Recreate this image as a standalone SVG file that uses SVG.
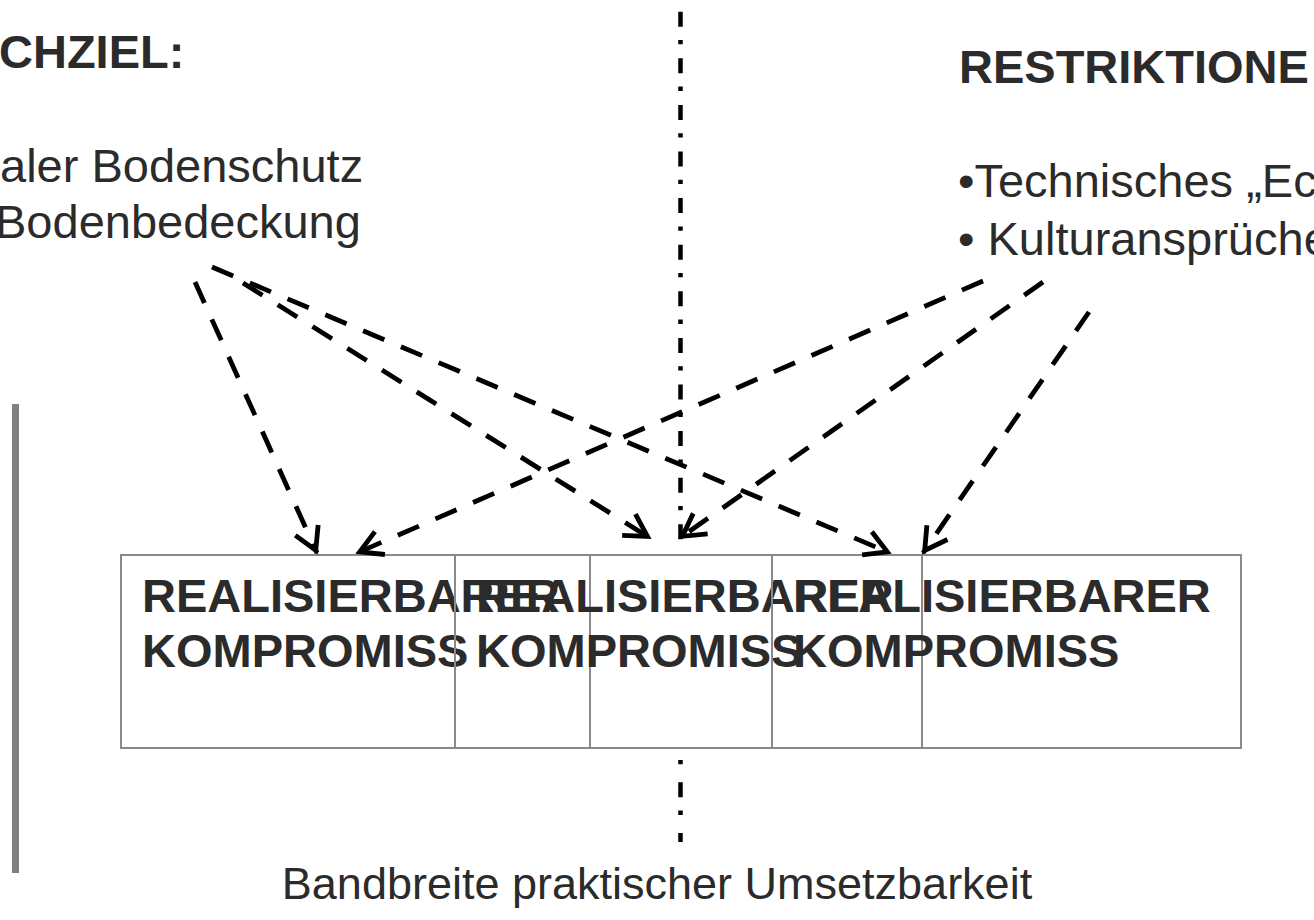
<svg xmlns="http://www.w3.org/2000/svg" width="1314" height="920" viewBox="0 0 1314 920">
  <style>
    text { font-family: "Liberation Sans", Arial, sans-serif; font-size: 47px; fill: #2b2b2b; }
    .b { font-weight: bold; }
    .cap { font-size: 45px; }
    .box { fill: none; stroke: #8a8a8a; stroke-width: 2; }
    .arrow { fill: none; stroke: #000; stroke-width: 4.8; stroke-dasharray: 23 18; marker-end: url(#head); }
    .axis { fill: none; stroke: #000; stroke-width: 4.5; }
  </style>
  <defs>
    <marker id="head" markerUnits="userSpaceOnUse" markerWidth="40" markerHeight="40" viewBox="-30 -20 40 40" refX="3" refY="0" orient="auto" overflow="visible">
      <path d="M-22,-12.5 L0,0 L-22,12.5" fill="none" stroke="#000" stroke-width="4.8"/>
    </marker>
  </defs>

  <!-- left margin bar -->
  <rect x="12" y="404" width="7" height="469" fill="#808080"/>

  <!-- central dash-dot axis -->
  <g id="axis">
    <line class="axis" x1="680.5" y1="11.7" x2="680.5" y2="542" stroke-dasharray="15 13.3 4.3 14"/>
    <line class="axis" x1="680.5" y1="760" x2="680.5" y2="842" stroke-dasharray="4.3 18 15 13.3"/>
  </g>

  <!-- goal block (left) -->
  <g id="goal">
    <text class="b" x="-1" y="68">CHZIEL:</text>
    <text x="0" y="182">aler Bodenschutz</text>
    <text x="-5" y="238">Bodenbedeckung</text>
  </g>

  <!-- restrictions block (right) -->
  <g id="restrictions">
    <text class="b" x="959" y="83">RESTRIKTIONE</text>
    <text x="958" y="197">•Technisches „Ec</text>
    <text x="958" y="255">• Kulturansprüche</text>
  </g>

  <!-- compromise boxes -->
  <g id="compromise-1">
    <rect class="box" x="121" y="555" width="469" height="193"/>
    <text class="b" x="142" y="612">REALISIERBARER</text>
    <text class="b" x="142" y="667">KOMPROMISS</text>
  </g>
  <g id="compromise-2">
    <rect class="box" x="455" y="555" width="467" height="193"/>
    <text class="b" x="476" y="612">REALISIERBARER</text>
    <text class="b" x="476" y="667">KOMPROMISS</text>
  </g>
  <g id="compromise-3">
    <rect class="box" x="772" y="555" width="469" height="193"/>
    <text class="b" x="793" y="612">REALISIERBARER</text>
    <text class="b" x="793" y="667">KOMPROMISS</text>
  </g>

  <!-- connectors -->
  <g id="connectors">
    <path class="arrow" d="M195,282 L317,553"/>
    <path class="arrow" d="M243,283 L650,538"/>
    <path class="arrow" d="M212,267 L890,553"/>
    <path class="arrow" d="M983,281 L357,553"/>
    <path class="arrow" d="M1043,282 L680,538"/>
    <path class="arrow" d="M1089,312 L923,553"/>
  </g>

  <!-- caption -->
  <g id="caption">
    <text class="cap" x="657" y="899" text-anchor="middle">Bandbreite praktischer Umsetzbarkeit</text>
  </g>
</svg>
